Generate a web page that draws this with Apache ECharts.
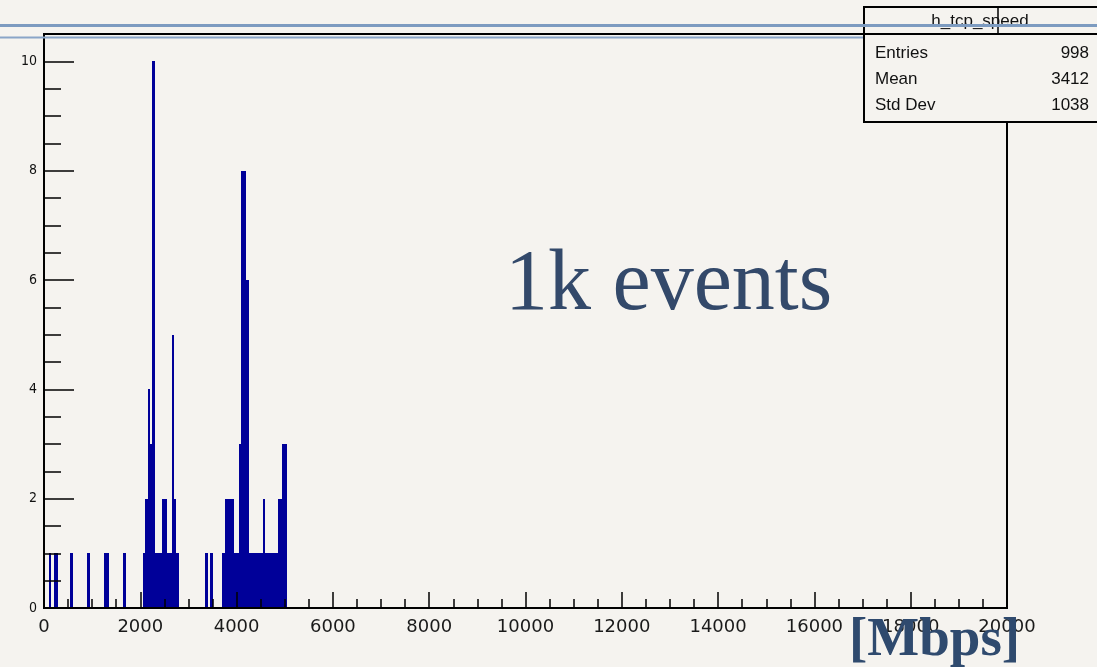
<!DOCTYPE html>
<html>
<head>
<meta charset="utf-8">
<script src="https://cdn.jsdelivr.net/npm/echarts@6/dist/echarts.min.js"></script>
<style>
html,body{margin:0;padding:0;background:#f5f3ef;}
#c{width:1097px;height:667px;}
</style>
</head>
<body>
<div id="c"></div>
<script>
// Histogram h_tcp_speed : bin width 50 Mbps, only non-empty bins listed
const binWidth = 50;
const binLowEdges = [100,200,250,550,900,1250,1300,1650,
  2050,2100,2150,2200,2250,2300,2350,2400,2450,2500,2550,2600,2650,2700,2750,
  3350,3450,
  3700,3750,3800,3850,3900,3950,4000,4050,4100,4150,4200,4250,4300,4350,4400,4450,4500,4550,4600,4650,4700,4750,4800,4850,4900,4950,5000];
const binCounts = [1,1,1,1,1,1,1,1,
  1,2,4,3,10,1,1,1,2,2,1,1,5,2,1,
  1,1,
  1,2,2,2,2,1,1,3,8,8,6,1,1,1,1,1,1,2,1,1,1,1,1,2,2,3,3];
const xTicks = [0,2000,4000,6000,8000,10000,12000,14000,16000,18000,20000];
const yTicks = [0,2,4,6,8,10];
const statsTitle = 'h_tcp_speed';
const statsNames = ['Entries','Mean','Std Dev'];
const statsValues = ['998','3412','1038'];

const chart = echarts.init(document.getElementById('c'));
const data = binLowEdges.map((e,i)=>[e, binCounts[i]]);

const statsGraphics = [];
statsNames.forEach((n,i)=>{
  statsGraphics.push({type:'text', z:60, style:{x:875, y:53+i*26, text:n, fill:'#111', font:'17px "Liberation Sans", Arial, sans-serif', textVerticalAlign:'middle', textAlign:'left'}});
  statsGraphics.push({type:'text', z:60, style:{x:1089, y:53+i*26, text:statsValues[i], fill:'#111', font:'17px "Liberation Sans", Arial, sans-serif', textVerticalAlign:'middle', textAlign:'right'}});
});

chart.setOption({
  backgroundColor:'#f5f3ef',
  animation:false,
  grid:{left:44, right:90, top:34, bottom:59, show:true, borderColor:'#000', borderWidth:2, backgroundColor:'transparent'},
  xAxis:{
    type:'value', min:0, max:20000, interval:2000, z:5,
    axisLine:{lineStyle:{color:'#000', width:2}},
    axisTick:{inside:true, length:16, lineStyle:{color:'#000', width:1.5}},
    minorTick:{show:true, splitNumber:4, length:9, lineStyle:{color:'#000', width:1.5}},
    splitLine:{show:false},
    axisLabel:{margin:10, color:'#1a1a1a', fontSize:18, fontFamily:'DejaVu Sans', formatter:v=> xTicks.indexOf(v)>=0 ? String(v) : ''}
  },
  yAxis:[
    {
      type:'value', min:0, max:10.5, interval:0.5, position:'left', z:5,
      axisLine:{show:true, lineStyle:{color:'#000', width:2}},
      axisTick:{inside:true, length:17, lineStyle:{color:'#000', width:1.5}},
      axisLabel:{show:false}, splitLine:{show:false}
    },
    {
      type:'value', min:0, max:10.5, interval:2, position:'left', offset:0, z:5,
      axisLine:{show:false},
      axisTick:{inside:true, length:30, lineStyle:{color:'#000', width:1.5}},
      axisLabel:{margin:7, color:'#111', fontSize:14, fontFamily:'DejaVu Sans Condensed, DejaVu Sans', formatter:v=> yTicks.indexOf(v)>=0 ? String(v) : ''},
      splitLine:{show:false}
    }
  ],
  series:[{
    type:'custom', xAxisIndex:0, yAxisIndex:0, data:data, clip:true, z:2,
    renderItem:function(params, api){
      const x0 = api.value(0), c = api.value(1);
      const p0 = api.coord([x0, c]);
      const p1 = api.coord([x0 + binWidth, 0]);
      const left = Math.round(p0[0]), right = Math.round(p1[0]);
      const top = Math.round(p0[1]), bottom = Math.round(p1[1]);
      return {type:'rect', shape:{x:left, y:top, width:Math.max(1, right-left), height:bottom-top},
        style:{fill:'#000099'}};
    }
  }],
  graphic:[
    // stats box
    {type:'rect', z:50, shape:{x:864, y:7, width:260, height:115}, style:{fill:'#f5f3ef', stroke:'#000', lineWidth:2}},
    {type:'line', z:51, shape:{x1:864, y1:34, x2:1100, y2:34}, style:{stroke:'#000', lineWidth:2}},
    {type:'line', z:51, shape:{x1:998, y1:7, x2:998, y2:34}, style:{stroke:'#000', lineWidth:1.5}},
    {type:'text', z:60, style:{x:980, y:21, text:statsTitle, fill:'#111', font:'17px "Liberation Sans", Arial, sans-serif', textAlign:'center', textVerticalAlign:'middle'}},
    ...statsGraphics,
    // slide decoration lines
    {type:'line', z:70, shape:{x1:0, y1:25.5, x2:1097, y2:25.5}, style:{stroke:'#7d9bc0', lineWidth:3}},
    {type:'line', z:40, shape:{x1:0, y1:37.5, x2:1097, y2:37.5}, style:{stroke:'#8aa5c8', lineWidth:2}},
    // annotations
    {type:'text', z:60, style:{x:505, y:286, text:'1k events', fill:'#33496a', font:'86px "Liberation Serif", "DejaVu Serif", serif', textAlign:'left', textVerticalAlign:'middle'}},
    {type:'text', z:60, style:{x:849, y:641, text:'[Mbps]', fill:'#2f4a6e', font:'bold 55px "Liberation Serif", "DejaVu Serif", serif', textAlign:'left', textVerticalAlign:'middle'}}
  ]
});
</script>
</body>
</html>
